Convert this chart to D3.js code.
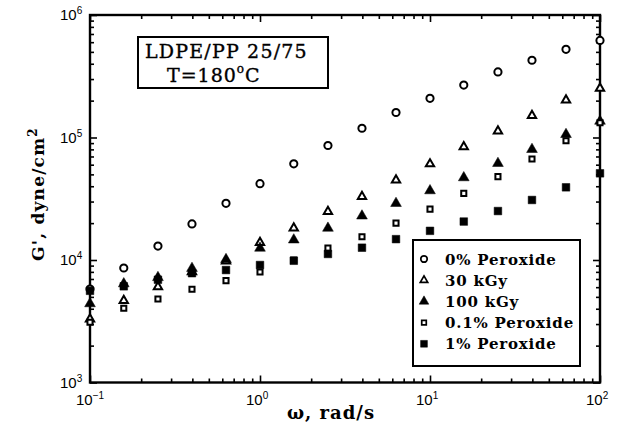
<!DOCTYPE html>
<html>
<head>
<meta charset="utf-8">
<script src="https://cdn.jsdelivr.net/npm/d3@7"></script>
<style>
  body { margin: 0; background: #fff; }
  svg { display: block; }
  .serif { font-family: 'DejaVu Serif'; }
  .sans { font-family: 'Liberation Sans', Arial, sans-serif; }
</style>
</head>
<body>
<svg id="chart" width="618" height="427"></svg>
<script>
// frequency (rad/s)
const omega = [0.1, 0.158, 0.251, 0.398, 0.631, 1, 1.58, 2.51, 3.98, 6.31, 10, 15.8, 25.1, 39.8, 63.1, 100]

// G' (dyne/cm^2)
const peroxide0  = [5.8e3, 8.6e3, 1.3e4, 1.97e4, 2.9e4, 4.2e4, 6.1e4, 8.6e4, 1.19e5, 1.6e5, 2.09e5, 2.68e5, 3.43e5, 4.27e5, 5.25e5, 6.2e5]
const kgy30      = [3.3e3, 4.66e3, 6.05e3, 8.0e3, 9.8e3, 1.39e4, 1.82e4, 2.48e4, 3.29e4, 4.5e4, 6.08e4, 8.4e4, 1.13e5, 1.51e5, 2.02e5, 2.52e5]
const kgy100     = [4.4e3, 6.4e3, 7.2e3, 8.55e3, 1.01e4, 1.25e4, 1.46e4, 1.82e4, 2.29e4, 2.9e4, 3.68e4, 4.7e4, 6.15e4, 8.0e4, 1.06e5, 1.36e5]
const peroxide01 = [3.1e3, 4.04e3, 4.81e3, 5.77e3, 6.78e3, 7.98e3, 1.0e4, 1.25e4, 1.55e4, 2.0e4, 2.6e4, 3.5e4, 4.79e4, 6.67e4, 9.42e4, 1.32e5]
const peroxide1  = [5.6e3, 6.1e3, 6.9e3, 7.8e3, 8.28e3, 9.1e3, 9.86e3, 1.12e4, 1.26e4, 1.48e4, 1.73e4, 2.06e4, 2.51e4, 3.09e4, 3.92e4, 5.1e4]

const seriesNames = ["0% Peroxide", "30 kGy", "100 kGy", "0.1% Peroxide", "1% Peroxide"]
const xTickExps = [-1, 0, 1, 2]
const yTickExps = [3, 4, 5, 6]

const series = [
  {name: seriesNames[0], values: peroxide0, shape: "circle", filled: false},
  {name: seriesNames[1], values: kgy30, shape: "triangle", filled: false},
  {name: seriesNames[2], values: kgy100, shape: "triangle", filled: true},
  {name: seriesNames[3], values: peroxide01, shape: "square", filled: false},
  {name: seriesNames[4], values: peroxide1, shape: "square", filled: true},
]

const width = 618, height = 427
const margin = {top: 15, right: 18, bottom: 44.5, left: 90}

const x = d3.scaleLog().domain([0.1, 100]).range([margin.left, width - margin.right])
const y = d3.scaleLog().domain([1e3, 1e6]).range([height - margin.bottom, margin.top])

const svg = d3.select("#chart")

// minor/major tick values
function minorTicks(lo, hi) {
  const out = []
  for (let e = lo; e < hi; e++)
    for (let m = 2; m <= 9; m++) out.push(m * Math.pow(10, e))
  return out
}
const xMajor = xTickExps.map(e => Math.pow(10, e))
const yMajor = yTickExps.map(e => Math.pow(10, e))
const xMinor = minorTicks(-1, 2)
const yMinor = minorTicks(3, 6)

const styleAxis = g => {
  g.selectAll(".domain").remove()
  g.selectAll(".tick line").attr("stroke", "#000").attr("stroke-width", 1.6)
  g.selectAll(".tick text").remove()
}

const [x0, x1] = x.range()
const [y0, y1] = y.range()

// bottom and top
svg.append("g").attr("transform", `translate(0,${y0})`)
  .call(d3.axisTop(x).tickValues(xMajor).tickSize(7).tickFormat("")).call(styleAxis)
svg.append("g").attr("transform", `translate(0,${y0})`)
  .call(d3.axisTop(x).tickValues(xMinor).tickSize(4).tickFormat("")).call(styleAxis)
svg.append("g").attr("transform", `translate(0,${y1})`)
  .call(d3.axisBottom(x).tickValues(xMajor).tickSize(7).tickFormat("")).call(styleAxis)
svg.append("g").attr("transform", `translate(0,${y1})`)
  .call(d3.axisBottom(x).tickValues(xMinor).tickSize(4).tickFormat("")).call(styleAxis)
// left and right
svg.append("g").attr("transform", `translate(${x0},0)`)
  .call(d3.axisRight(y).tickValues(yMajor).tickSize(7).tickFormat("")).call(styleAxis)
svg.append("g").attr("transform", `translate(${x0},0)`)
  .call(d3.axisRight(y).tickValues(yMinor).tickSize(4).tickFormat("")).call(styleAxis)
svg.append("g").attr("transform", `translate(${x1},0)`)
  .call(d3.axisLeft(y).tickValues(yMajor).tickSize(7).tickFormat("")).call(styleAxis)
svg.append("g").attr("transform", `translate(${x1},0)`)
  .call(d3.axisLeft(y).tickValues(yMinor).tickSize(4).tickFormat("")).call(styleAxis)

// frame
svg.append("rect")
  .attr("x", x0).attr("y", y1)
  .attr("width", x1 - x0).attr("height", y0 - y1)
  .attr("fill", "none").attr("stroke", "#000").attr("stroke-width", 2.4)

// tick labels with superscript exponents
function powerLabel(sel, exp) {
  sel.append("tspan").text("10")
  sel.append("tspan").attr("dy", -6).attr("font-size", 10).text(exp < 0 ? "\u22121" : exp)
}
xTickExps.forEach(e => {
  const t = svg.append("text").attr("class", "sans")
    .attr("x", x(Math.pow(10, e)) - 14).attr("y", y0 + 22)
    .attr("font-size", 15).attr("fill", "#000")
  powerLabel(t, e)
})
yTickExps.forEach(e => {
  const t = svg.append("text").attr("class", "sans")
    .attr("x", x0 - 30).attr("y", y(Math.pow(10, e)) + 5)
    .attr("font-size", 15).attr("fill", "#000")
  powerLabel(t, e)
})

// axis titles
svg.append("text").attr("class", "serif")
  .attr("x", 331).attr("y", 419)
  .attr("text-anchor", "middle").attr("font-size", 18).attr("font-weight", "bold")
  .attr("letter-spacing", 1)
  .text("\u03c9, rad/s")

const yl = svg.append("text").attr("class", "serif")
  .attr("transform", `translate(44,${194}) rotate(-90)`)
  .attr("text-anchor", "middle").attr("font-size", 17).attr("font-weight", "bold")
  .attr("letter-spacing", 1.2)
yl.append("tspan").text("G', dyne/cm")
yl.append("tspan").attr("dy", -7).attr("font-size", 12).text("2")

// markers
const symbolPath = (shape, filled, scale = 1) => {
  const type = shape === "circle" ? d3.symbolCircle : shape === "triangle" ? d3.symbolTriangle : d3.symbolSquare
  let size
  if (shape === "circle") size = Math.PI * 3.6 * 3.6
  else if (shape === "triangle") size = filled ? 50 : 30
  else size = filled ? 58 : 26
  return d3.symbol().type(type).size(size * scale)()
}

series.forEach(s => {
  svg.append("g")
    .selectAll("path")
    .data(s.values.map((v, i) => [omega[i], v]))
    .join("path")
      .attr("transform", d => `translate(${x(d[0])},${y(d[1])})`)
      .attr("d", symbolPath(s.shape, s.filled))
      .attr("fill", s.filled ? "#000" : "#fff")
      .attr("stroke", "#000")
      .attr("stroke-width", s.filled ? 0.5 : 2)
})

// sample box
svg.append("rect")
  .attr("x", 138).attr("y", 37).attr("width", 190).attr("height", 51)
  .attr("fill", "#fff").attr("stroke", "#000").attr("stroke-width", 2)
svg.append("text").attr("class", "serif")
  .attr("x", 145).attr("y", 58).attr("font-size", 19).attr("letter-spacing", 1.2)
  .attr("stroke", "#000").attr("stroke-width", 0.35)
  .text("LDPE/PP 25/75")
const tt = svg.append("text").attr("class", "serif")
  .attr("x", 167).attr("y", 82).attr("font-size", 19).attr("letter-spacing", 1)
  .attr("stroke", "#000").attr("stroke-width", 0.35)
tt.append("tspan").text("T=180")
tt.append("tspan").attr("dy", -9).attr("font-size", 12).text("o")
tt.append("tspan").attr("dy", 9).text("C")

// legend
const legend = svg.append("g").attr("transform", "translate(413,240)")
legend.append("rect")
  .attr("width", 167).attr("height", 126)
  .attr("fill", "#fff").attr("stroke", "#000").attr("stroke-width", 2)
const rows = legend.selectAll("g.row")
  .data(series)
  .join("g")
    .attr("class", "row")
    .attr("transform", (d, i) => `translate(11,${19 + i * 21.2})`)
rows.append("path")
  .attr("d", d => symbolPath(d.shape, d.filled, 0.8))
  .attr("fill", d => d.filled ? "#000" : "#fff")
  .attr("stroke", "#000")
  .attr("stroke-width", d => d.filled ? 0.5 : 1.7)
rows.append("text").attr("class", "serif")
  .attr("x", 21).attr("y", 5.5)
  .attr("font-size", 15).attr("font-weight", "bold").attr("letter-spacing", 0.8)
  .text(d => d.name)
</script>
</body>
</html>
